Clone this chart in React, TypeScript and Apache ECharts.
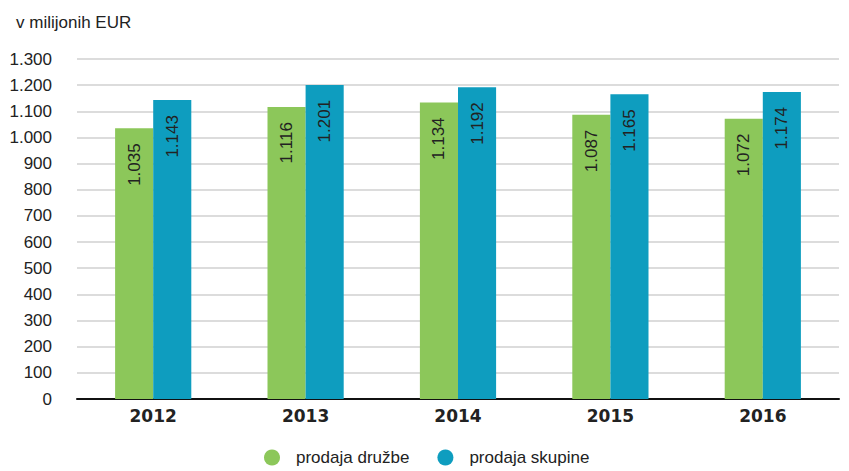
import React, { useEffect, useRef } from "react";
import * as echarts from "echarts";

const categories = ["2012", "2013", "2014", "2015", "2016"];
const prodajaDruzbe = [1035, 1116, 1134, 1087, 1072];
const prodajaSkupine = [1143, 1201, 1192, 1165, 1174];
const seriesNames = ["prodaja družbe", "prodaja skupine"];

const fmt = (v: number) => {
  const s = String(Math.round(v));
  return s.replace(/\B(?=(\d{3})+(?!\d))/g, ".");
};

const FONT = "Liberation Sans, Arial, Helvetica, sans-serif";

export default function App() {
  const ref = useRef<HTMLDivElement>(null);
  useEffect(() => {
    if (!ref.current) return;
    const chart = echarts.init(ref.current, null, { renderer: "svg" });
    const label = {
      show: true,
      position: "insideTop" as const,
      rotate: 90,
      align: "right" as const,
      verticalAlign: "middle" as const,
      distance: 15,
      color: "#222",
      fontSize: 17,
      fontFamily: FONT,
      formatter: (p: any) => fmt(p.value),
    };
    chart.setOption({
      animation: false,
      textStyle: { fontFamily: FONT },
      title: {
        text: "v milijonih EUR",
        left: 11,
        top: 9,
        textStyle: { fontSize: 17, fontWeight: "normal", color: "#222", fontFamily: FONT },
      },
      legend: {
        data: seriesNames,
        bottom: 0,
        left: 259,
        icon: "circle",
        itemWidth: 16,
        itemHeight: 16,
        itemGap: 28,
        textStyle: { fontSize: 17, color: "#222", fontFamily: FONT, padding: [0, 0, 0, 11] },
      },
      grid: { left: 77, right: 10, top: 59, bottom: 72, containLabel: false },
      xAxis: {
        type: "category",
        data: categories,
        axisLine: { lineStyle: { color: "#111", width: 2 } },
        axisTick: { show: false },
        axisLabel: {
          fontSize: 17,
          fontWeight: "bold",
          color: "#222",
          margin: 8,
          fontFamily: "DejaVu Sans, sans-serif",
        },
      },
      yAxis: {
        type: "value",
        min: 0,
        max: 1300,
        interval: 100,
        axisLine: { show: false },
        axisTick: { show: false },
        splitLine: { lineStyle: { color: "#d0d0d0", width: 1.5 } },
        axisLabel: { fontSize: 17, color: "#222", margin: 25, fontFamily: FONT, formatter: (v: number) => fmt(v) },
      },
      series: [
        {
          name: seriesNames[0],
          type: "bar",
          data: prodajaDruzbe,
          barWidth: "25%",
          barGap: "0%",
          itemStyle: { color: "#8cc75a" },
          label,
        },
        {
          name: seriesNames[1],
          type: "bar",
          data: prodajaSkupine,
          barWidth: "25%",
          barGap: "0%",
          itemStyle: { color: "#0e9dbf" },
          label,
        },
      ],
    });
    return () => chart.dispose();
  }, []);
  return (
    <div
      ref={ref}
      style={{ position: "fixed", left: 0, top: 0, width: 849, height: 471, background: "#fff" }}
    />
  );
}
